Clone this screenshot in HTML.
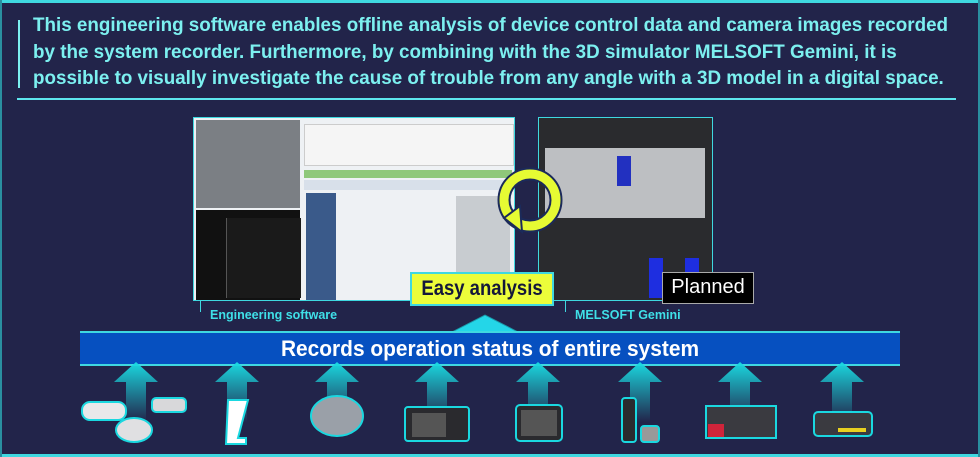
<!DOCTYPE html>
<html><head><meta charset="utf-8"><style>
body{margin:0;width:980px;height:457px;background:#22244a;overflow:hidden;position:relative;font-family:"Liberation Sans",sans-serif}
.a{position:absolute}
.t{left:33px;top:12px;color:#7cf0f0;font-weight:bold;font-size:19.5px;line-height:26.5px;white-space:nowrap;transform:scaleX(0.965);transform-origin:0 0}
.lab{color:#3fe0e8;font-weight:bold;font-size:12.5px;white-space:nowrap}
</style></head><body>
<div class="a" style="left:0;top:0;width:980px;height:3px;background:#3fd8e0"></div>
<div class="a" style="left:0;top:454px;width:980px;height:3px;background:#3fd8e0"></div>
<div class="a" style="left:0;top:0;width:2px;height:457px;background:#2a8fa0"></div>
<div class="a" style="left:978px;top:0;width:2px;height:457px;background:#2a8fa0"></div>
<div class="a" style="left:18px;top:20px;width:2px;height:68px;background:#7cf0f0"></div>
<div class="a t">This engineering software enables offline analysis of device control data and camera images recorded<br>by the system recorder. Furthermore, by combining with the 3D simulator MELSOFT Gemini, it is<br>possible to visually investigate the cause of trouble from any angle with a 3D model in a digital space.</div>
<div class="a" style="left:17px;top:98px;width:939px;height:2px;background:#5ee6ee"></div>

<!-- left screenshot -->
<div class="a" style="left:193px;top:117px;width:320px;height:182px;border:1px solid #3fd8e0;background:#eef1f4;overflow:hidden">
 <div class="a" style="left:2px;top:2px;width:104px;height:88px;background:#7b7f84"></div>
 <div class="a" style="left:2px;top:92px;width:104px;height:90px;background:#111"></div>
 <div class="a" style="left:32px;top:100px;width:74px;height:80px;background:#1a1a1a;border-left:1px solid #555"></div>
 <div class="a" style="left:110px;top:6px;width:208px;height:40px;background:#f5f5f5;border:1px solid #ccc"></div>
 <div class="a" style="left:110px;top:52px;width:208px;height:8px;background:#8fc87a"></div>
 <div class="a" style="left:110px;top:62px;width:208px;height:10px;background:#d8e0ea"></div>
 <div class="a" style="left:112px;top:75px;width:30px;height:107px;background:#3a5a8a"></div>
 <div class="a" style="left:262px;top:78px;width:54px;height:95px;background:#c8ccd0"></div>
</div>
<!-- right screenshot -->
<div class="a" style="left:538px;top:117px;width:173px;height:182px;border:1px solid #3fd8e0;background:#2a2b2e;overflow:hidden">
 <div class="a" style="left:6px;top:30px;width:160px;height:70px;background:#bdbfc2"></div>
 <div class="a" style="left:78px;top:38px;width:14px;height:30px;background:#2230c0"></div>
 <div class="a" style="left:110px;top:140px;width:14px;height:40px;background:#1e2ee0"></div>
 <div class="a" style="left:146px;top:140px;width:14px;height:40px;background:#1e2ee0"></div>
</div>
<!-- cycle arrow -->
<svg class="a" style="left:490px;top:160px" width="80" height="85"><circle cx="40" cy="40" r="26" fill="none" stroke="#1b2a5a" stroke-width="13"/><circle cx="40" cy="40" r="26" fill="none" stroke="#e6fb33" stroke-width="9"/><polygon points="14,58 30,46 32,72" fill="#e6fb33" stroke="#1b2a5a" stroke-width="2"/></svg>

<div class="a" style="left:410px;top:272px;width:144px;height:34px;background:#ecfd3a;border:2px solid #3fd8e0;box-sizing:border-box;"></div>
<div class="a" style="left:410px;top:274px;width:144px;color:#14183a;font-weight:bold;font-size:21px;text-align:center;line-height:30px;white-space:nowrap;transform:scaleX(0.88)">Easy analysis</div>
<div class="a" style="left:662px;top:272px;width:90px;height:30px;background:#000;border:1px solid #aaa;color:#fff;font-size:20px;text-align:center;line-height:29px;white-space:nowrap">Planned</div>
<div class="a lab" style="left:210px;top:308px">Engineering software</div>
<div class="a lab" style="left:575px;top:308px">MELSOFT Gemini</div>
<div class="a" style="left:200px;top:300px;width:1px;height:12px;background:#3fd8e0"></div>
<div class="a" style="left:565px;top:300px;width:1px;height:12px;background:#3fd8e0"></div>

<svg class="a" style="left:452px;top:314px" width="66" height="18"><polygon points="0,18 33,1 66,18" fill="#24d6e8" stroke="#1b9aaa"/></svg>
<div class="a" style="left:80px;top:331px;width:820px;height:35px;background:#0650c0;border-top:2px solid #3fd8e0;border-bottom:2px solid #3fd8e0;box-sizing:border-box;"></div>
<div class="a" style="left:80px;top:333px;width:820px;color:#fff;font-weight:bold;font-size:22px;text-align:center;line-height:31px;white-space:nowrap;transform:scaleX(0.95)">Records operation status of entire system</div>

<svg class="a" style="left:0;top:362px" width="980" height="95">
<defs><linearGradient id="g" x1="0" y1="0" x2="0" y2="1"><stop offset="0" stop-color="#1ad8e0"/><stop offset="1" stop-color="#1ad8e0" stop-opacity="0"/></linearGradient></defs>
<polygon transform="translate(136,0)" points="-22,20 0,0 22,20 10,20 10,60 -10,60 -10,20" fill="url(#g)"/>
<polygon transform="translate(237,0)" points="-22,20 0,0 22,20 10,20 10,60 -10,60 -10,20" fill="url(#g)"/>
<polygon transform="translate(337,0)" points="-22,20 0,0 22,20 10,20 10,60 -10,60 -10,20" fill="url(#g)"/>
<polygon transform="translate(437,0)" points="-22,20 0,0 22,20 10,20 10,60 -10,60 -10,20" fill="url(#g)"/>
<polygon transform="translate(538,0)" points="-22,20 0,0 22,20 10,20 10,60 -10,60 -10,20" fill="url(#g)"/>
<polygon transform="translate(640,0)" points="-22,20 0,0 22,20 10,20 10,60 -10,60 -10,20" fill="url(#g)"/>
<polygon transform="translate(740,0)" points="-22,20 0,0 22,20 10,20 10,60 -10,60 -10,20" fill="url(#g)"/>
<polygon transform="translate(842,0)" points="-22,20 0,0 22,20 10,20 10,60 -10,60 -10,20" fill="url(#g)"/>
<g stroke="#1ad8e0" stroke-width="2">
<rect x="82" y="40" width="44" height="18" rx="8" fill="#e8e8ea"/>
<ellipse cx="134" cy="68" rx="18" ry="12" fill="#e0e0e2"/>
<rect x="152" y="36" width="34" height="14" rx="4" fill="#d8d8da"/>
<path d="M228 38 h20 l-10 38 h8 v6 h-20 z" fill="#fff"/>
<ellipse cx="337" cy="54" rx="26" ry="20" fill="#9aa0a8"/>
<rect x="405" y="45" width="64" height="34" rx="3" fill="#2a2a2e"/>
<rect x="516" y="43" width="46" height="36" rx="4" fill="#2a2a2e"/>
<rect x="622" y="36" width="14" height="44" rx="3" fill="#2a2a2e"/>
<rect x="641" y="64" width="18" height="16" rx="3" fill="#999"/>
<rect x="706" y="44" width="70" height="32" fill="#3a3a40"/>
<rect x="814" y="50" width="58" height="24" rx="4" fill="#3a3a40"/>
</g>
<rect x="708" y="62" width="16" height="13" fill="#d0243a"/>
<rect x="412" y="51" width="34" height="24" fill="#555"/>
<rect x="521" y="48" width="36" height="26" fill="#555"/>
<rect x="838" y="66" width="28" height="4" fill="#e8d020"/>
</svg>
</body></html>
